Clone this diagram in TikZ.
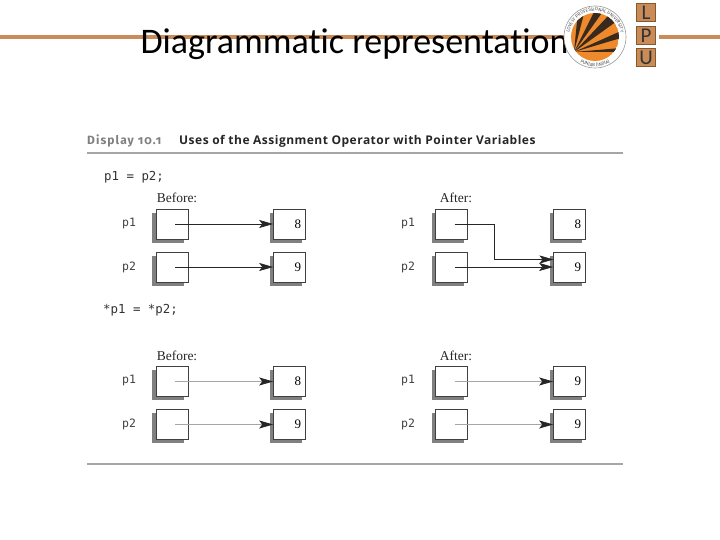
\documentclass[tikz,border=0pt]{standalone}
\usepackage{fontspec}
\setmainfont{Liberation Serif}
\setsansfont{Fira Sans}
\setmonofont{DejaVu Sans Mono}
\newfontfamily\titlefont[Ligatures=NoCommon]{Carlito}
\newfontfamily\dispfont[Numbers=OldStyle,LetterSpace=9]{Fira Sans}
\newfontfamily\headfont[LetterSpace=4]{Open Sans}
\usetikzlibrary{positioning}
\usetikzlibrary{arrows.meta}
\usetikzlibrary{shadows}
\usetikzlibrary{decorations.text}
\definecolor{barcol}{HTML}{C98B58}
\definecolor{logocol}{HTML}{EE8A2C}
\definecolor{stripecol}{HTML}{3A2A1E}
\tikzset{
  cellbox/.style={draw=black!75,fill=white,line width=0.6pt,minimum width=32pt,minimum height=30pt,inner sep=0pt,
    drop shadow={shadow xshift=-4pt,shadow yshift=-4pt,fill=black!50,opacity=1}},
  valbox/.style={cellbox,font=\fontsize{13}{13}\selectfont,text width=23pt,align=right},
  varname/.style={font=\ttfamily\fontsize{11.5}{12}\selectfont,text=black!75},
  codeline/.style={font=\ttfamily\fontsize{12.4}{13}\selectfont,text=black!80,anchor=west,inner sep=0pt},
  caption/.style={font=\fontsize{13.5}{14}\selectfont,text=black!85},
  ptr/.style={line width=0.7pt,draw=black!85,shorten <=3pt,-{Stealth[length=14pt,width=8pt,inset=3pt,black!85]}},
  ptrlight/.style={line width=0.7pt,draw=black!35,shorten <=3pt,-{Stealth[length=14pt,width=8pt,inset=3pt,black!85]}},
  sepline/.style={line width=1.2pt,draw=black!35},
  lpubox/.style={draw=brown!70!black,line width=1pt,fill=barcol,minimum width=19pt,minimum height=18pt,inner sep=0pt,font=\titlefont\fontsize{21}{21}\selectfont,text=black!80},
}
\begin{document}
\begin{tikzpicture}[x=1pt,y=1pt]
\useasboundingbox (0,0) rectangle (720,540);
% top bar
\fill[barcol] (0,501) rectangle (566,505);
\fill[barcol] (659,501) rectangle (720,505);
\node[font=\titlefont\fontsize{36}{38}\selectfont,text=black,anchor=center] (title) at (354.5,496) {Diagrammatic representation};
% logo
\fill[white,draw=black!40,line width=0.6pt] (595,503) circle (31);
\begin{scope}
\clip (595,503) circle (24);
\fill[logocol] (595,503) circle (24);
\fill[stripecol] (574,488) -- (578,529) -- (585,530) -- cycle;
\fill[stripecol] (574,488) -- (595,530) -- (604,530) -- cycle;
\fill[stripecol] (574,488) -- (610,526) -- (617,519) -- cycle;
\fill[stripecol] (574,488) -- (621,509) -- (621,502) -- cycle;
\fill[stripecol] (574,488) -- (621,492) -- (621,488) -- cycle;
\end{scope}
\path[postaction={decorate,decoration={text along path,text align=center,
  text={|\sffamily\fontsize{4.6}{5}\selectfont\color{black!70}|LOVELY PROFESSIONAL UNIVERSITY}}}]
  (595,503) ++(190:26) arc (190:-10:26);
\path[postaction={decorate,decoration={text along path,text align=center,
  text={|\sffamily\fontsize{4.6}{5}\selectfont\color{black!70}|PUNJAB (INDIA)}}}]
  (595,503) ++(230:29.5) arc (230:310:29.5);
\node[lpubox] (lpuL) at (646,527) {L};
\node[lpubox,below=3.5pt of lpuL] (lpuP) {P};
\node[lpubox,below=3.5pt of lpuP] (lpuU) {U};

% heading
\node[font=\dispfont\bfseries\fontsize{12}{12}\selectfont,text=black!50,anchor=west,inner sep=0pt] (disp) at (87,399) {Display 10.1};
\node[font=\headfont\bfseries\fontsize{12}{12}\selectfont,text=black!85,anchor=west,inner sep=0pt] (head) at (179,399) {Uses of the Assignment Operator with Pointer Variables};
\draw[sepline] (87,387) -- (623,387);
\draw[sepline] (87,76) -- (623,76);
\node[codeline] (codeA) at (104,363) {p1 = p2;};
\node[codeline] (codeB) at (103,229.5) {*p1 = *p2;};

% upper left
\node[caption] (capA) at (177,342) {Before:};
\node[varname] (nameA) at (129,316) {p1};
\node[varname] (nameB) at (129,273) {p2};
\node[cellbox] (ptrA) at (172,316) {};
\node[cellbox] (ptrB) at (172,273) {};
\node[valbox] (valA) at (289.5,316) {8};
\node[valbox] (valB) at (289.5,273) {9};
\draw[ptr] (ptrA.center) -- (valA.west);
\draw[ptr] (ptrB.center) -- (valB.west);

% upper right
\node[caption] (capB) at (456,342) {After:};
\node[varname] (nameC) at (408,316) {p1};
\node[varname] (nameD) at (408,273) {p2};
\node[cellbox] (ptrC) at (451.5,316) {};
\node[cellbox] (ptrD) at (451.5,273) {};
\node[valbox] (valC) at (569.5,316) {8};
\node[valbox] (valD) at (569.5,273) {9};
\coordinate (kink) at (494.5,280.5);
\coordinate (entry) at (553.5,280.5);
\draw[ptr] (ptrC.center) -| (kink) -- (entry);
\draw[ptr] (ptrD.center) -- (valD.west);

% lower left
\node[caption] (capC) at (177,184) {Before:};
\node[varname] (nameE) at (129,159) {p1};
\node[varname] (nameF) at (129,116) {p2};
\node[cellbox] (ptrE) at (172,158.5) {};
\node[cellbox] (ptrF) at (172,115.5) {};
\node[valbox] (valE) at (289.5,158.5) {8};
\node[valbox] (valF) at (289.5,115.5) {9};
\draw[ptrlight] (ptrE.center) -- (valE.west);
\draw[ptrlight] (ptrF.center) -- (valF.west);

% lower right
\node[caption] (capD) at (456,184) {After:};
\node[varname] (nameG) at (408,159) {p1};
\node[varname] (nameH) at (408,116) {p2};
\node[cellbox] (ptrG) at (451.5,158.5) {};
\node[cellbox] (ptrH) at (451.5,115.5) {};
\node[valbox] (valG) at (569.5,158.5) {9};
\node[valbox] (valH) at (569.5,115.5) {9};
\draw[ptrlight] (ptrG.center) -- (valG.west);
\draw[ptrlight] (ptrH.center) -- (valH.west);
\end{tikzpicture}
\end{document}
